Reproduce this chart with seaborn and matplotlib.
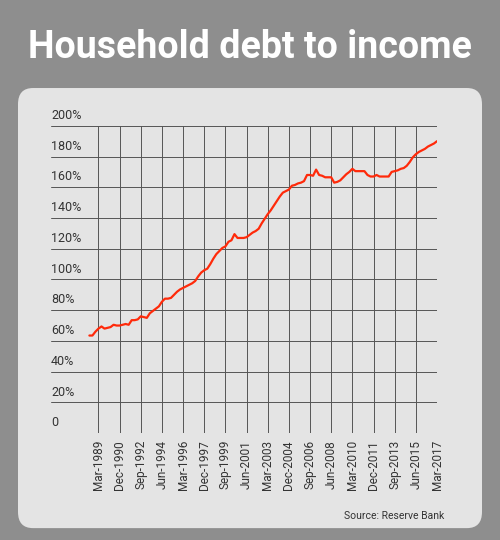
import numpy as np
import pandas as pd
import matplotlib.pyplot as plt
import seaborn as sns
from matplotlib.patches import FancyBboxPatch

# Quarterly household debt to income (%), Jun-1988 .. Mar-2017
debt_ratio = [
    63.5, 63.5, 66, 68, 69.4, 68, 68.5, 69, 70.5, 70, 70, 70.5,
    71, 70.5, 73.5, 73.5, 74, 76, 75.5, 75, 78, 79.5, 81, 82.5,
    85.5, 87.5, 87.5, 88, 90, 92, 93.5, 94.5, 95.5, 96.5, 97.5, 99,
    102, 104.5, 106, 107, 110, 113.5, 116.5, 118.5, 120.5, 121.5, 124.5, 125.5,
    129.5, 127, 127, 127, 127.5, 129, 130.5, 131.5, 133, 136.5, 139.5, 142.5,
    145, 148, 151, 154, 156.5, 157.5, 158.5, 161, 161.5, 162.5, 163, 164,
    168, 168, 167.5, 171.5, 168, 167.5, 166.5, 166.5, 166.5, 163, 163.5, 164.5,
    166.5, 168.5, 170, 172, 170.5, 170.5, 170.5, 170.5, 168, 167, 167, 168,
    167, 167, 167, 167, 170, 170.5, 171, 172, 172.5, 174, 176.5, 179.5,
    181.5, 183, 184, 185, 186.5, 187.5, 188.5, 190,
]
tick_labels = ["Mar-1989", "Dec-1990", "Sep-1992", "Jun-1994", "Mar-1996", "Dec-1997",
               "Sep-1999", "Jun-2001", "Mar-2003", "Dec-2004", "Sep-2006", "Jun-2008",
               "Mar-2010", "Dec-2011", "Sep-2013", "Jun-2015", "Mar-2017"]
y_ticks = [0, 20, 40, 60, 80, 100, 120, 140, 160, 180, 200]

df = pd.DataFrame({"q": np.arange(len(debt_ratio)), "ratio": debt_ratio})

sns.set_style("white")
plt.rcParams["font.family"] = ["Roboto", "DejaVu Sans"]

fig = plt.figure(figsize=(5, 5.4), dpi=100)
fig.patch.set_facecolor("#8e8e8e")

# rounded panel behind the chart
panel = FancyBboxPatch((0.036, 0.022), 0.928, 0.815, boxstyle="round,pad=0,rounding_size=0.03",
                       transform=fig.transFigure, facecolor="#e4e4e4", edgecolor="none", zorder=0)
fig.patches.append(panel)

fig.text(0.5, 0.912, "Household debt to income", color="white", fontsize=27,
         fontweight="bold", ha="center", va="center")

ax = fig.add_axes([0.102, 0.198, 0.772, 0.569])
ax.set_zorder(2)
ax.set_facecolor("none")
sns.lineplot(data=df, x="q", y="ratio", ax=ax, color="#ff2a0a", linewidth=1.6, zorder=3)

ax.set_xlim(-12.7, 115)
ax.set_ylim(0, 200)
tick_pos = [3 + 7 * k for k in range(len(tick_labels))]
ax.set_xticks(tick_pos)
ax.set_xticklabels(tick_labels, rotation=90, fontsize=8.5, color="#333333")
ax.tick_params(axis="x", length=3, color="#555555", pad=2)
for x in tick_pos:
    ax.axvline(x, color="#555555", lw=0.7, zorder=1)
ax.set_yticks([])
for y in y_ticks:
    ax.axhline(y, color="#555555", lw=0.7, zorder=1)
    ax.text(-12.7, y + 2.5, "0" if y == 0 else f"{y}%", fontsize=9, color="#333333",
            ha="left", va="bottom")
for s in ax.spines.values():
    s.set_visible(False)
ax.set_xlabel("")
ax.set_ylabel("")

fig.text(0.888, 0.044, "Source: Reserve Bank", fontsize=7.5, color="#333333", ha="right", va="center")

fig.savefig("out.png", dpi=100, facecolor=fig.get_facecolor())
